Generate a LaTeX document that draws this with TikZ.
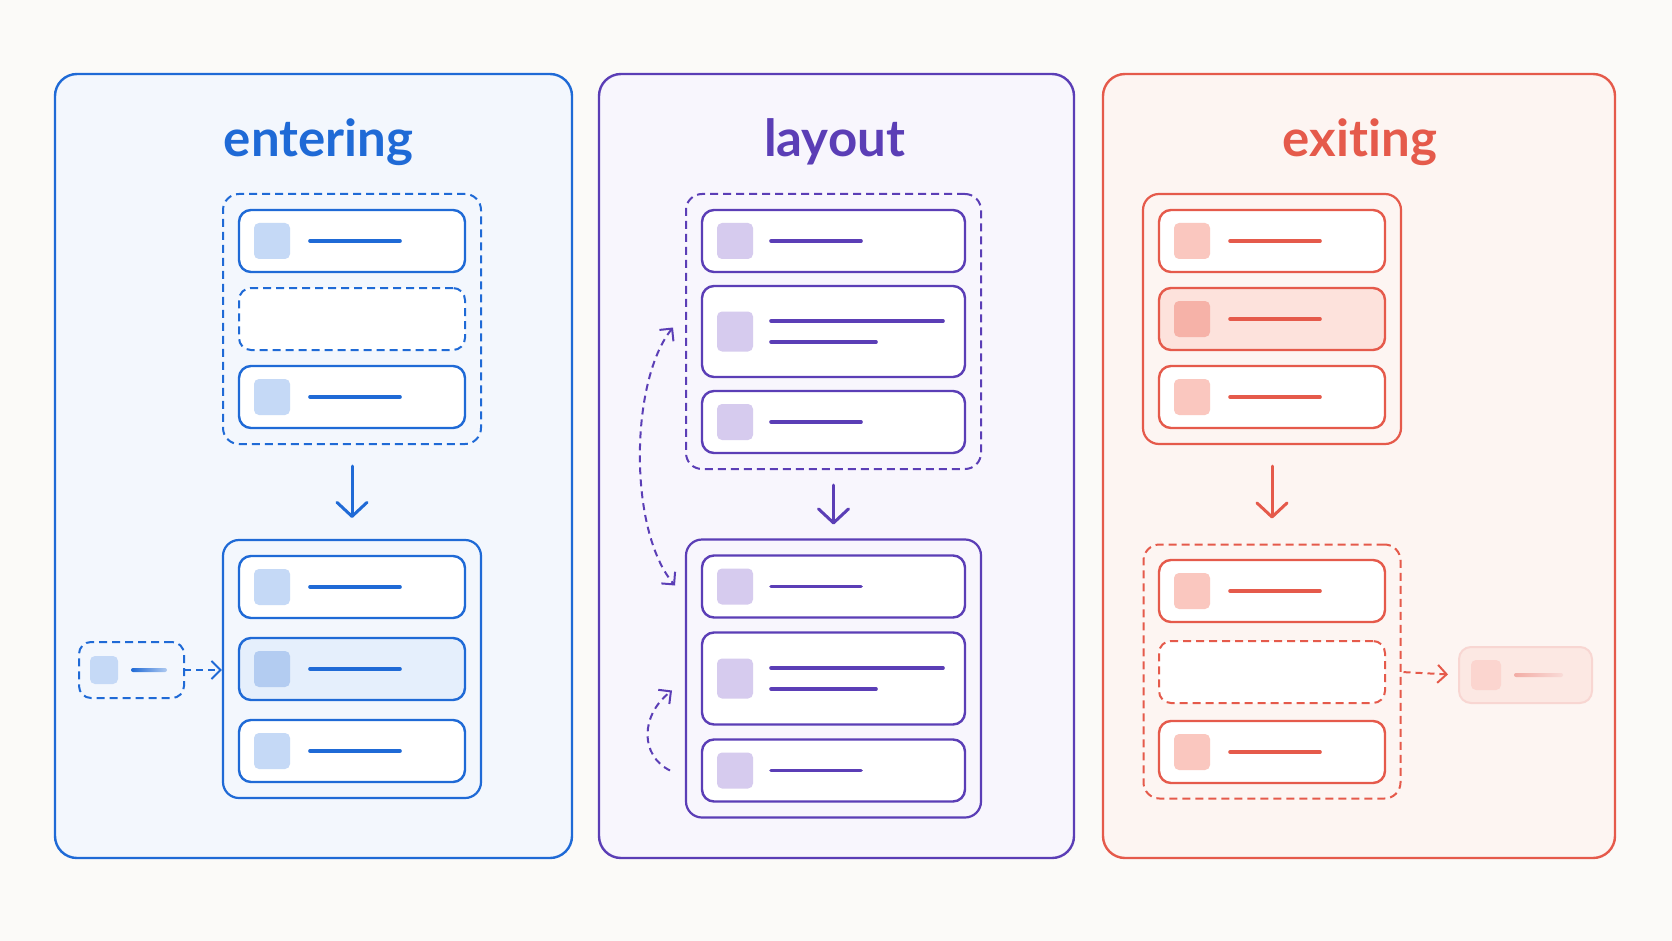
\documentclass[tikz,border=0pt]{standalone}
\usepackage{fontspec}
\newfontfamily\titlefont{Lato}[Ligatures=NoCommon]
\usepackage{tikz}
\usetikzlibrary{positioning,calc,fit,arrows.meta}

\definecolor{pagebg}{HTML}{FBFAF8}
\definecolor{entblue}{HTML}{1F6AD6}
\definecolor{entpanel}{HTML}{F3F7FD}
\definecolor{enticon}{HTML}{C5D9F6}
\definecolor{entdeep}{HTML}{B3CCF1}
\definecolor{entlight}{HTML}{E5EFFC}
\definecolor{laypurple}{HTML}{5B3EB6}
\definecolor{laypanel}{HTML}{F8F6FD}
\definecolor{layicon}{HTML}{D6CBEE}
\definecolor{exred}{HTML}{E55A4B}
\definecolor{expanel}{HTML}{FDF5F2}
\definecolor{exicon}{HTML}{FAC7BF}
\definecolor{exdeep}{HTML}{F6B2A8}
\definecolor{exlight}{HTML}{FDE2DC}
\definecolor{exfaint}{HTML}{FCE8E3}

\tikzset{
    panel/.style={draw, line width=2.4pt, rounded corners=22pt, inner sep=0pt, minimum height=784pt},
    card/.style={draw, fill=white, line width=2.4pt, rounded corners=12pt, minimum width=226pt, minimum height=62pt, inner sep=0pt, outer sep=0pt},
    widecard/.style={card, minimum width=263pt},
    gapcard/.style={card, line width=2pt, dash pattern=on 8pt off 5pt},
    group/.style={draw, line width=2.2pt, rounded corners=16pt, inner sep=16pt},
    ghostgroup/.style={group, line width=2pt, dash pattern=on 8pt off 5pt},
    icon/.style={rounded corners=5pt, minimum size=36pt, inner sep=0pt},
    bar/.style={line width=3.6pt, line cap=round},
    flow/.style={line width=3pt, line cap=round, -{Straight Barb[length=14pt, width=30pt, round]}},
    hop/.style={line width=2pt, dash pattern=on 7pt off 5pt},
    heading/.style={font=\titlefont\bfseries\fontsize{51}{60}\selectfont, anchor=base},
}

\begin{document}
\begin{tikzpicture}[x=1pt, y=-1pt]
    \fill[pagebg] (0,0) rectangle (1672,941);
    \useasboundingbox (0,0) rectangle (1672,941);

    % entering
    \begin{scope}[entblue]
    \node [panel, fill=entpanel, minimum width=517pt] (pan1) at (313.5,466) {};
    \node [heading] (t1) at ($(pan1.north)+(5,84)$) {entering};

    \node [card] (a1) at (352,241) {};
    \node [gapcard, below=16pt of a1] (a2) {};
    \node [card, below=16pt of a2] (a3) {};
    \node [ghostgroup, fit=(a1)(a3)] (ga) {};

    \node [card] (b1) at (352,587) {};
    \node [card, fill=entlight, below=20pt of b1] (b2) {};
    \node [card, below=20pt of b2] (b3) {};
    \node [group, fit=(b1)(b3)] (gb) {};

    \foreach \n/\ic in {a1/enticon, a3/enticon, b1/enticon, b2/entdeep, b3/enticon} {
        \node [icon, fill=\ic] (\n-sq) at ($(\n.west)+(33,0)$) {};
        \draw [bar] ($(\n.west)+(71,0)$) -- ++(90,0);
    }

    \draw [flow, shorten <=21pt, shorten >=21pt] (ga) -- (gb);

    \node [gapcard, fill=entpanel, minimum width=105pt, minimum height=56pt] (inbox) at (131.5,670) {};
    \node [icon, fill=enticon, minimum size=28pt] (inbox-sq) at ($(inbox.west)+(25,0)$) {};
    \shade [left color=entblue, right color=entblue!35, rounded corners=2pt] ($(inbox.west)+(52,-2)$) rectangle ($(inbox.west)+(88,2)$);
    \draw [hop, -{Straight Barb[length=9pt, width=18pt]}] (inbox.east) -- (inbox.east -| gb.west);
    \end{scope}

    % layout
    \begin{scope}[laypurple]
    \node [panel, fill=laypanel, minimum width=475pt] (pan2) at (836.5,466) {};
    \node [heading] (t2) at ($(pan2.north)+(-2,84)$) {layout};

    \node [widecard] (c1) at (833.5,241) {};
    \node [widecard, minimum height=91pt, below=14pt of c1] (c2) {};
    \node [widecard, below=14pt of c2] (c3) {};
    \node [ghostgroup, fit=(c1)(c3)] (gc) {};

    \node [widecard] (d1) at (833.5,586.5) {};
    \node [widecard, minimum height=92pt, below=15pt of d1] (d2) {};
    \node [widecard, below=15pt of d2] (d3) {};
    \node [group, fit=(d1)(d3)] (gd) {};

    \foreach \n in {c1,c3,d1,d3} {
        \node [icon, fill=layicon] (\n-sq) at ($(\n.west)+(33,0)$) {};
        \draw [bar] ($(\n.west)+(69,0)$) -- ++(90,0);
    }
    \foreach \n in {c2,d2} {
        \node [icon, fill=layicon, minimum height=40pt] (\n-sq) at ($(\n.west)+(33,0)$) {};
        \draw [bar] ($(\n.west)+(69,-10.5)$) -- ++(172,0);
        \draw [bar] ($(\n.west)+(69,10.5)$) -- ++(105,0);
    }

    \draw [flow, shorten <=15pt, shorten >=14pt] (gc) -- (gd);

    \coordinate (hopA) at ($(c2.west)+(-29,-4)$);
    \coordinate (hopB) at ($(d1.west)+(-27,-1)$);
    \coordinate (hopC) at ($(d3.west)+(-32,0)$);
    \coordinate (hopD) at ($(d2.west)+(-30,12)$);
    \draw [hop, {Straight Barb[length=9pt, width=18pt]}-{Straight Barb[length=9pt, width=18pt]}] (hopA) .. controls +(-43,53) and +(-47,-55) .. (hopB);
    \draw [hop, -{Straight Barb[length=9pt, width=18pt]}] (hopC) .. controls +(-30,-15) and +(-32,25) .. (hopD);
    \end{scope}

    % exiting
    \begin{scope}[exred]
    \node [panel, fill=expanel, minimum width=512pt] (pan3) at (1359,466) {};
    \node [heading] (t3) at ($(pan3.north)+(1,84)$) {exiting};

    \node [card] (e1) at (1272,241) {};
    \node [card, fill=exlight, below=16pt of e1] (e2) {};
    \node [card, below=16pt of e2] (e3) {};
    \node [group, fit=(e1)(e3)] (ge) {};

    \node [card] (f1) at (1272,591) {};
    \node [gapcard, below=19pt of f1] (f2) {};
    \node [card, below=18pt of f2] (f3) {};
    \node [ghostgroup, fit=(f1)(f3), inner sep=15.5pt] (gf) {};

    \foreach \n/\ic in {e1/exicon, e2/exdeep, e3/exicon, f1/exicon, f3/exicon} {
        \node [icon, fill=\ic] (\n-sq) at ($(\n.west)+(33,0)$) {};
        \draw [bar] ($(\n.west)+(71,0)$) -- ++(90,0);
    }

    \draw [flow, shorten <=21pt, shorten >=25pt] (ge) -- (gf);

    \node [card, draw=exred!25, fill=exfaint, line width=2pt, minimum width=133pt, minimum height=56pt] (outbox) at (1525.5,675) {};
    \node [icon, fill=exicon!75, minimum size=30pt] (outbox-sq) at ($(outbox.west)+(27,0)$) {};
    \shade [left color=exred!50, right color=exred!22, rounded corners=2pt] ($(outbox.west)+(55,-2)$) rectangle ($(outbox.west)+(104,2)$);
    \draw [hop, shorten <=2pt, shorten >=11pt, -{Straight Barb[length=9pt, width=18pt]}] (f2.east -| gf.east) -- (outbox.west);
    \end{scope}
\end{tikzpicture}
\end{document}
